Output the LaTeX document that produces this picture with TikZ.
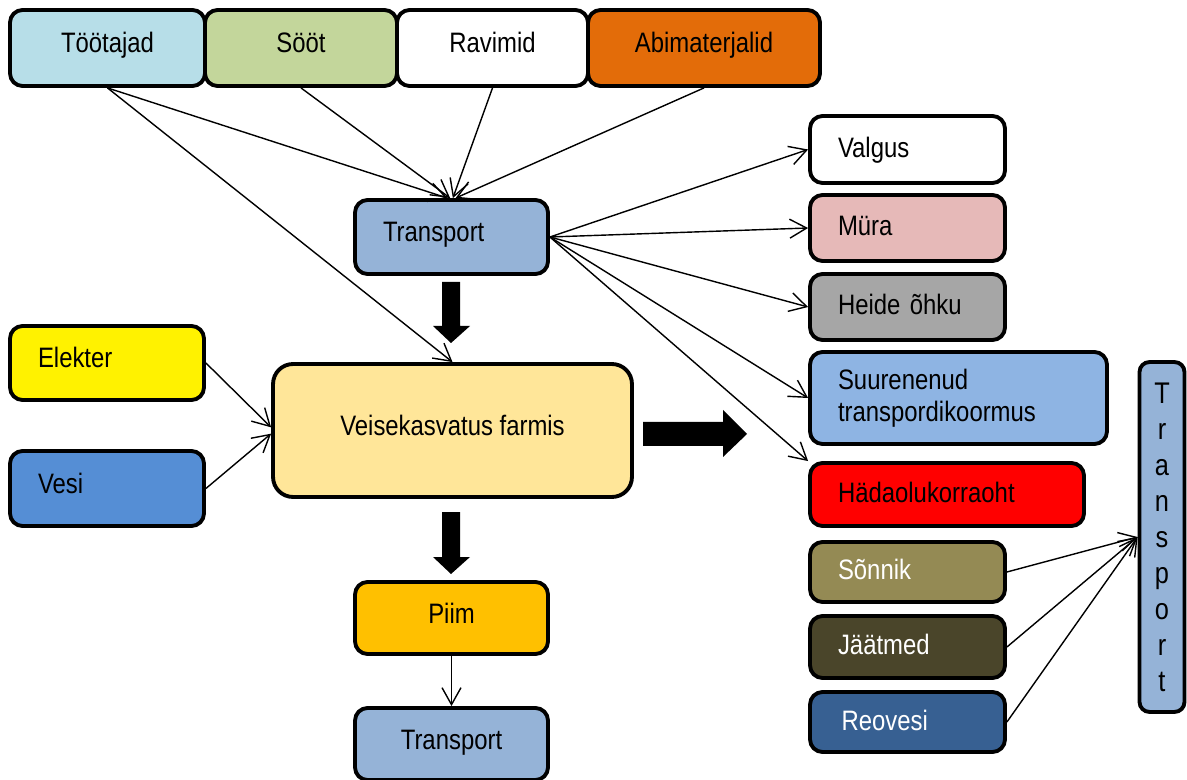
\documentclass[tikz,border=0pt]{standalone}
\usepackage{fontspec}
\setmainfont{Liberation Sans}[FakeStretch=0.85]
\usetikzlibrary{positioning, calc, arrows.meta}

\definecolor{cTeam}{HTML}{B7DEE8}
\definecolor{cFeed}{HTML}{C3D69B}
\definecolor{cSupp}{HTML}{E36C09}
\definecolor{cTrans}{HTML}{95B3D7}
\definecolor{cNoise}{HTML}{E6B9B8}
\definecolor{cAir}{HTML}{A6A6A6}
\definecolor{cLoad}{HTML}{8EB4E3}
\definecolor{cManure}{HTML}{948A54}
\definecolor{cWaste}{HTML}{4A452A}
\definecolor{cSewage}{HTML}{376092}
\definecolor{cWater}{HTML}{558ED5}
\definecolor{cFarm}{HTML}{FFE699}
\definecolor{cMilk}{HTML}{FFC000}

\begin{document}
\begin{tikzpicture}[x=0.02cm, y=-0.02cm,
    box/.style={draw, line width=2.2pt, rounded corners=0.25cm, inner sep=0pt,
        text height=0.45cm, text depth=0.25cm, font=\fontsize{16}{18}\selectfont},
    lbox/.style={box, align=left, inner xsep=0.56cm},
    rbox/.style={lbox, text depth=0.13cm},
    link/.style={-{Straight Barb[length=3.4mm,width=3.8mm]}, line width=0.8pt},
    fat/.style={fill=black}]
    \useasboundingbox (0,0) rectangle (1187,780);

    % inputs
    \node[box, fill=cTeam, minimum width=3.9cm, minimum height=1.52cm] (team) at (107.5,48) {Töötajad};
    \node[box, fill=cFeed, minimum width=3.84cm, minimum height=1.52cm] (feed) at (301,48) {Sööt};
    \node[box, fill=white, minimum width=3.82cm, minimum height=1.52cm] (meds) at (492.5,48) {Ravimid};
    \node[box, fill=cSupp, minimum width=4.64cm, minimum height=1.52cm] (supp) at (704,48) {Abimaterjalid};

    \node[lbox, fill=cTrans, text width=2.74cm, minimum height=1.48cm] (trtop) at (451.5,237) {Transport};

    \node[lbox, fill=yellow, text width=2.76cm, minimum height=1.48cm] (power) at (107,363) {Elekter};
    \node[lbox, fill=cWater, text width=2.76cm, minimum height=1.5cm] (water) at (107,488.5) {Vesi};

    % farm
    \node[box, fill=cFarm, rounded corners=0.4cm, minimum width=7.18cm, minimum height=2.66cm] (farm) at (452.5,430.5) {Veisekasvatus farmis};

    \node[box, fill=cMilk, minimum width=3.86cm, minimum height=1.44cm] (milk) at (451.5,618) {Piim};
    \node[box, fill=cTrans, minimum width=3.86cm, minimum height=1.44cm] (trbot) at (451.5,744) {Transport};

    % outputs
    \node[rbox, fill=white, text width=2.78cm, minimum height=1.34cm] (light) at (907.5,149.5) {Valgus};
    \node[rbox, fill=cNoise, text width=2.78cm, minimum height=1.32cm] (noise) at (907.5,228) {Müra};
    \node[rbox, fill=cAir, text width=2.78cm, minimum height=1.32cm] (air) at (907.5,307) {Heide õhku};
    \node[lbox, fill=cLoad, text height=, text depth=, text width=4.82cm, minimum height=1.84cm] (load) at (958.5,398) {Suurenenud\\transpordikoormus};
    \node[rbox, fill=red, text width=4.36cm, minimum height=1.26cm] (risk) at (947,494.5) {Hädaolukorraoht};
    \node[rbox, fill=cManure, text=white, text width=2.78cm, minimum height=1.2cm] (manure) at (907.5,572) {Sõnnik};
    \node[rbox, fill=cWaste, text=white, text width=2.78cm, minimum height=1.24cm] (waste) at (907.5,647) {Jäätmed};
    \node[rbox, fill=cSewage, text=white, text width=2.78cm, minimum height=1.2cm] (sewage) at (907.5,722) {\hspace{2pt}Reovesi};

    \node[box, fill=cTrans, text height=, text depth=, rounded corners=0.2cm, align=center, minimum width=0.9cm, minimum height=7cm,
        font=\fontsize{17}{20.5}\selectfont] (trside) at (1162,537) {T\\r\\a\\n\\s\\p\\o\\r\\t};

    % thin arrows
    \draw[link] (team.south) -- (trtop.96);
    \draw[link] (team.south) -- (farm.north);
    \draw[link] (feed.south) -- (trtop.92);
    \draw[link] (meds.south) -- (trtop.88);
    \draw[link] (supp.south) -- (trtop.84);

    \draw[link] (trtop.east) -- (light.west);
    \draw[link] (trtop.east) -- (noise.west);
    \draw[link] (trtop.east) -- (air.west);
    \draw[link] (trtop.east) -- (load.west);
    \draw[link] (trtop.east) -- (risk.north west);

    \draw[link] (power.east) -- (farm.179);
    \draw[link] (water.east) -- (farm.181);
    \draw[link] (milk.south) -- (trbot.north);

    \draw[link] (manure.east) -- (trside.west);
    \draw[link] (waste.east) -- (trside.west);
    \draw[link] (sewage.east) -- (trside.west);

    % block arrows
    \fill[fat] (442,282) -- (460,282) -- (460,326) -- (470,326) -- (451,343) -- (433,326) -- (442,326) -- cycle;
    \fill[fat] (643,422) -- (723,422) -- (723,410) -- (747,434) -- (723,457) -- (723,446) -- (643,446) -- cycle;
    \fill[fat] (442,512) -- (460,512) -- (460,557) -- (470,557) -- (451,574) -- (433,557) -- (442,557) -- cycle;
\end{tikzpicture}
\end{document}
